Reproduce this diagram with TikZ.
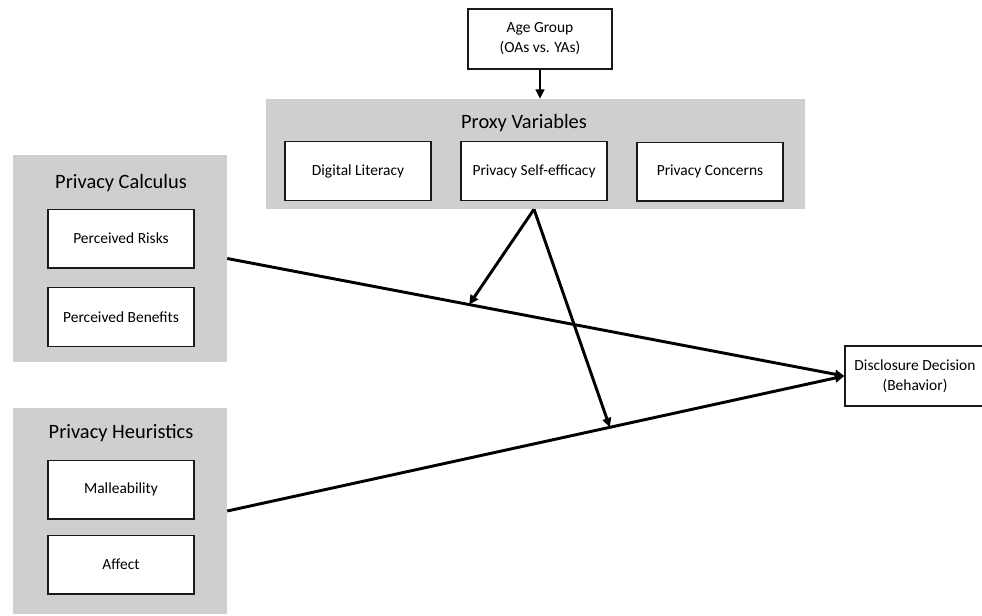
\documentclass[tikz,border=0pt]{standalone}
\usepackage{fontspec}
\setmainfont{Carlito}
\usetikzlibrary{arrows.meta,calc}
\definecolor{panelgray}{RGB}{208,206,206}
\begin{document}
\begin{tikzpicture}[x=0.75pt,y=-0.75pt,
  panel/.style={fill=panelgray,draw=none,minimum width=214,inner sep=0pt},
  paneltitle/.style={font=\fontsize{15.3}{18}\selectfont,inner sep=0pt},
  itembox/.style={draw=black!90,fill=white,line width=1pt,minimum width=109.5pt,minimum height=44pt,inner sep=0pt,align=center,font=\fontsize{11.6}{15}\selectfont},
  link/.style={line width=2.2pt,-{Triangle[length=7pt,width=6.5pt]}}]
\useasboundingbox (0,0) rectangle (982,615);
\clip (0,0) rectangle (982,615);

% grouping panels
\node[panel,minimum width=404.25pt,minimum height=82.5pt] (proxy) at (535.5,154) {};
\node[panel,minimum width=160.5pt,minimum height=155.25pt] (calc) at (120,258.5) {};
\node[panel,minimum width=160.5pt,minimum height=154.5pt] (heur) at (120,511) {};

\node[paneltitle] (proxyT) at (524,123) {Proxy Variables};
\node[paneltitle] (calcT) at (121,183) {Privacy Calculus};
\node[paneltitle] (heurT) at (121,433) {Privacy Heuristics};

% variables
\node[itembox,minimum width=108pt,minimum height=45pt] (age) at (540,39) {Age Group\\(OAs vs. YAs)};
\node[itembox] (dl) at (358,171) {Digital Literacy};
\node[itembox] (pse) at (534,171) {Privacy Self-efficacy};
\node[itembox] (pc) at (710,171.5) {Privacy Concerns};
\node[itembox] (pr) at (121,238.5) {Perceived Risks};
\node[itembox] (pb) at (121,317) {Perceived Benefits};
\node[itembox] (mal) at (121,489.5) {Malleability};
\node[itembox] (aff) at (121,564.5) {Affect};
% decision box runs past the right edge of the page
\node[itembox,minimum width=111pt,minimum height=45pt] (dd) at (919,376) {\hspace*{-6pt}Disclosure Decision\\\hspace*{-6pt}(Behavior)};

% paths
\draw[link] (age.south) -- (age.south |- proxy.north);
\draw[link] (calc.east) -- (dd.west);
\draw[link] (heur.east) -- (dd.west);
\coordinate (apex) at (pse.south |- proxy.south);
\draw[link] (apex) -- ($(calc.east)!0.392!(dd.west)$);
\draw[link] (apex) -- ($(heur.east)!0.62!(dd.west)$);
\end{tikzpicture}
\end{document}
